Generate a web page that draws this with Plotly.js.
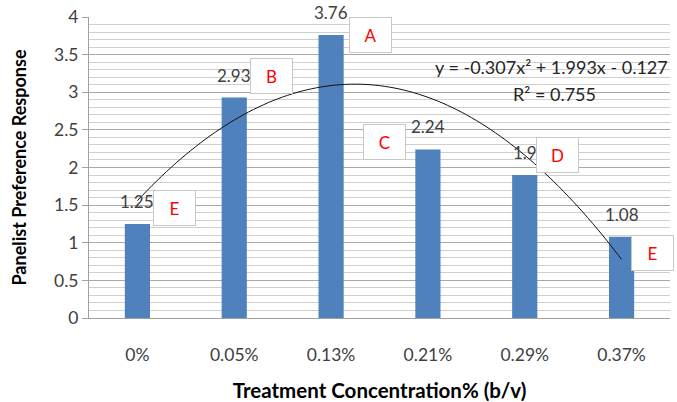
<!DOCTYPE html>
<html>
<head>
<meta charset="utf-8">
<script src="https://cdn.plot.ly/plotly-3.0.1.min.js"></script>
<style>html,body{margin:0;padding:0;background:#fff;}#chart{width:677px;height:402px;}</style>
</head>
<body>
<div id="chart"></div>
<script>
// ---- data ----
const categories = ["0%", "0.05%", "0.13%", "0.21%", "0.29%", "0.37%"];
const responses = [1.25, 2.93, 3.76, 2.24, 1.9, 1.08];
const responseLabels = ["1.25", "2.93", "3.76", "2.24", "1.9", "1.08"];
const groupLetters = ["E", "B", "A", "C", "D", "E"];
const trendCoef = [-0.307, 1.993, -0.127]; // y = a x^2 + b x + c (x = 1..n)
const equationText = "y = -0.307x² + 1.993x - 0.127";
const r2Text = "R² = 0.755";

// ---- layout helpers ----
const letterOffsets = [[37, 16], [37, 22], [39, 0], [-43, 7], [33, 20], [31, -16]];
const FONT = "Lato, 'Open Sans', sans-serif";
const idx = categories.map((_, i) => i);

// trendline from displayed equation
const tx = [], ty = [];
for (let t = 0; t <= categories.length - 1 + 1e-9; t += 0.05) {
  const X = t + 1;
  tx.push(t);
  ty.push(trendCoef[0] * X * X + trendCoef[1] * X + trendCoef[2]);
}

const bars = {
  type: "bar", x: idx, y: responses, width: 0.26,
  marker: {color: "#4f81bd"}, hoverinfo: "skip"
};
const trend = {
  type: "scatter", mode: "lines", x: tx, y: ty,
  line: {color: "#111", width: 1, shape: "spline"}, hoverinfo: "skip"
};

const annotations = [];
idx.forEach(i => {
  annotations.push({
    x: i, y: responses[i], xref: "x", yref: "y", text: responseLabels[i],
    showarrow: false, yanchor: "bottom", yshift: 10,
    font: {family: FONT, size: 17, color: "#404040"}
  });
  annotations.push({
    x: i, y: responses[i], xref: "x", yref: "y", text: groupLetters[i],
    showarrow: false, xshift: letterOffsets[i][0], yshift: letterOffsets[i][1],
    width: 39, height: 32, bgcolor: "#ffffff", bordercolor: "#c8c8c8", borderwidth: 1,
    font: {family: FONT, size: 17, color: "#ff0000"}
  });
});
annotations.push({
  xref: "paper", yref: "paper", x: 1.0, y: 0.835, xanchor: "right", yanchor: "middle",
  text: equationText, showarrow: false, font: {family: FONT, size: 18, color: "#262626"}
});
annotations.push({
  xref: "paper", yref: "paper", x: 0.802, y: 0.745, xanchor: "center", yanchor: "middle",
  text: r2Text, showarrow: false, font: {family: FONT, size: 18, color: "#262626"}
});

const layout = {
  width: 677, height: 402,
  margin: {l: 89, r: 7, t: 17, b: 84},
  paper_bgcolor: "#fff", plot_bgcolor: "#fff",
  showlegend: false,
  xaxis: {
    range: [-0.5, categories.length - 0.5],
    tickvals: idx, ticktext: categories,
    showgrid: false, zeroline: false,
    showline: true, linecolor: "#a0a0a0", linewidth: 1,
    ticks: "", ticklabelstandoff: 21,
    tickfont: {family: FONT, size: 17.5, color: "#404040"},
    title: {text: "<b>Treatment Concentration% (b/v)</b>", standoff: 20,
            font: {family: FONT, size: 20.5, color: "#000"}}
  },
  yaxis: {
    range: [0, 4], dtick: 0.5, tick0: 0,
    showgrid: true, gridcolor: "#a8a8a8", gridwidth: 1,
    minor: {dtick: 0.1, showgrid: true, gridcolor: "#cfcfcf", gridwidth: 1},
    zeroline: false, showline: true, linecolor: "#a0a0a0", linewidth: 1,
    ticks: "outside", ticklen: 6, tickcolor: "#a0a0a0",
    tickfont: {family: FONT, size: 17.5, color: "#404040"},
    title: {text: "<b>Panelist Preference Response</b>", standoff: 22,
            font: {family: FONT, size: 18, color: "#000"}}
  },
  annotations: annotations
};

Plotly.newPlot("chart", [bars, trend], layout, {displayModeBar: false, staticPlot: true});
</script>
</body>
</html>
